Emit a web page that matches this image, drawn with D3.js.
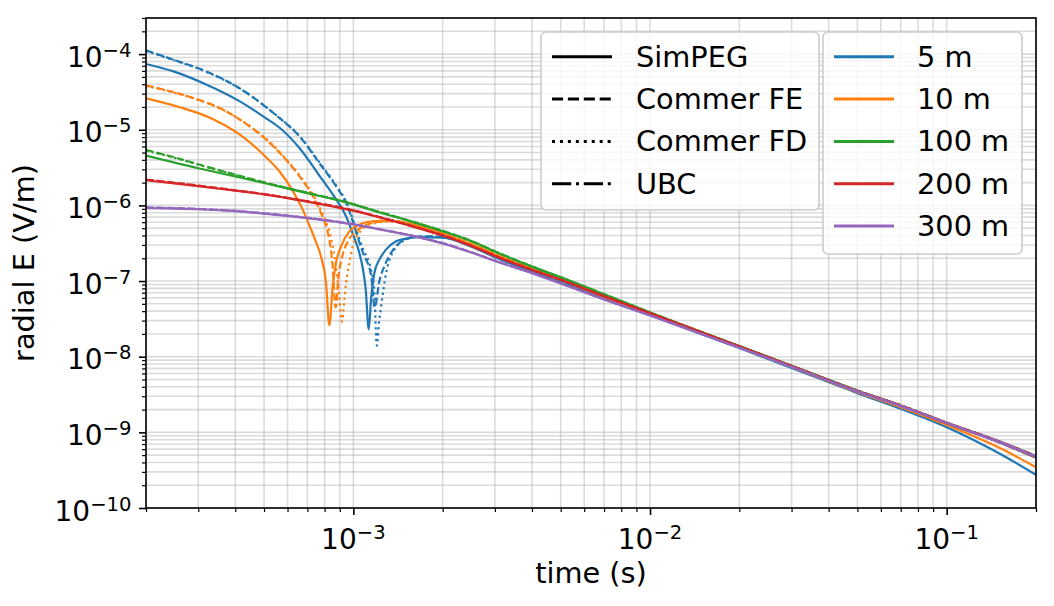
<!DOCTYPE html>
<html>
<head>
<meta charset="utf-8">
<script src="https://cdn.jsdelivr.net/npm/d3@7"></script>
<style>
  body { margin: 0; background: #fff; }
  svg { display: block; }
  text { font-family: "DejaVu Sans", sans-serif; fill: #000; }
</style>
</head>
<body>
<svg id="chart" width="1054" height="606"></svg>
<script>
// ---- data ----
const offsets = ["5 m", "10 m", "100 m", "200 m", "300 m"];
const methods = ["SimPEG", "Commer FE", "Commer FD", "UBC"];

const timeDomain = [2e-4, 2e-1];
const fieldDomain = [1e-10, 3e-4];
const xMajorTicks = [1e-3, 1e-2, 1e-1];
const xTickExponents = ["−3", "−2", "−1"];
const yMajorTicks = [1e-10, 1e-9, 1e-8, 1e-7, 1e-6, 1e-5, 1e-4];
const yTickExponents = ["−10", "−9", "−8", "−7", "−6", "−5", "−4"];

// [time (s), |E| (V/m)]
const simpeg5 = [[2e-4,7.4e-5],[2.46e-4,5.95e-5],[3.19e-4,3.97e-5],[4.13e-4,2.39e-5],[5.01e-4,1.47e-5],[5.63e-4,1.07e-5],[6.58e-4,5.73e-6],[7.68e-4,2.48e-6],[8.76e-4,1.19e-6],[9.2e-4,8.8e-7],[9.6e-4,6.2e-7],[1e-3,4.0e-7],[1.04e-3,2.6e-7],[1.075e-3,1.5e-7],[1.1e-3,8.0e-8],[1.127e-3,2.3e-8],[1.147e-3,5.7e-8],[1.177e-3,1.28e-7],[1.224e-3,1.92e-7],[1.288e-3,2.6e-7],[1.393e-3,3.35e-7],[1.505e-3,3.65e-7],[1.67e-3,3.8e-7],[2e-3,3.75e-7],[2.5e-3,2.85e-7],[3e-3,2.07e-7],[4e-3,1.32e-7],[5e-3,9.6e-8],[7e-3,6.0e-8],[1e-2,3.55e-8],[2e-2,1.3e-8],[3e-2,7.1e-9],[5e-2,3.3e-9],[7e-2,2.05e-9],[1e-1,1.17e-9],[1.5e-1,5.3e-10],[2e-1,2.75e-10]];
const commerFE5 = [[2e-4,1.12e-4],[2.46e-4,8.5e-5],[3.19e-4,5.9e-5],[4.13e-4,3.55e-5],[5.35e-4,1.69e-5],[5.71e-4,1.37e-5],[6.58e-4,8.2e-6],[7.67e-4,3.65e-6],[8.74e-4,1.79e-6],[9.45e-4,1.08e-6],[9.95e-4,6.2e-7],[1.034e-3,3.8e-7],[1.08e-3,2.3e-7],[1.147e-3,1.2e-7],[1.18e-3,4.5e-8],[1.224e-3,1.0e-7],[1.272e-3,1.57e-7],[1.34e-3,2.36e-7],[1.43e-3,3.2e-7],[1.545e-3,3.7e-7],[1.7e-3,3.9e-7],[2e-3,3.85e-7],[2.5e-3,2.95e-7],[3e-3,2.12e-7],[4e-3,1.36e-7],[5e-3,1.0e-7],[7e-3,6.2e-8],[1e-2,3.7e-8],[2e-2,1.35e-8],[3e-2,7.5e-9],[5e-2,3.55e-9],[7e-2,2.27e-9],[1e-1,1.34e-9],[1.5e-1,7.6e-10],[2e-1,4.85e-10]];
const commerFD5 = [[2e-4,1.1e-4],[2.46e-4,8.4e-5],[3.19e-4,5.85e-5],[4.13e-4,3.53e-5],[5.35e-4,1.7e-5],[5.71e-4,1.38e-5],[6.58e-4,8.3e-6],[7.67e-4,3.75e-6],[8.74e-4,1.85e-6],[9.45e-4,1.12e-6],[9.95e-4,6.6e-7],[1.034e-3,4.2e-7],[1.08e-3,2.6e-7],[1.147e-3,1.4e-7],[1.175e-3,8.0e-8],[1.2e-3,1.4e-8],[1.22e-3,2.8e-8],[1.24e-3,4.6e-8],[1.29e-3,1.28e-7],[1.374e-3,2.6e-7],[1.5e-3,3.5e-7],[1.67e-3,3.85e-7],[2e-3,3.8e-7],[2.5e-3,2.9e-7],[3e-3,2.1e-7],[4e-3,1.35e-7],[5e-3,1.0e-7],[7e-3,6.15e-8],[1e-2,3.7e-8],[2e-2,1.35e-8],[3e-2,7.5e-9],[5e-2,3.55e-9],[7e-2,2.27e-9],[1e-1,1.34e-9],[1.5e-1,7.6e-10],[2e-1,4.85e-10]];

const simpeg10 = [[2e-4,2.6e-5],[2.58e-4,2.0e-5],[3.34e-4,1.4e-5],[4.33e-4,7.6e-6],[5e-4,4.6e-6],[5.63e-4,2.83e-6],[6.24e-4,1.57e-6],[6.75e-4,8.8e-7],[7.2e-4,4.8e-7],[7.48e-4,3.3e-7],[7.78e-4,2.1e-7],[8.09e-4,9.4e-8],[8.3e-4,2.6e-8],[8.52e-4,8.5e-8],[8.74e-4,1.73e-7],[9.09e-4,2.88e-7],[9.69e-4,4.54e-7],[1.047e-3,5.57e-7],[1.16e-3,6.17e-7],[1.29e-3,6.3e-7],[1.43e-3,6.1e-7],[1.7e-3,5.2e-7],[2e-3,4.25e-7],[2.5e-3,3.05e-7],[3e-3,2.25e-7],[4e-3,1.43e-7],[5e-3,1.04e-7],[7e-3,6.2e-8],[1e-2,3.65e-8],[2e-2,1.34e-8],[3e-2,7.3e-9],[5e-2,3.4e-9],[7e-2,2.15e-9],[1e-1,1.25e-9],[1.5e-1,6.3e-10],[2e-1,3.45e-10]];
const commerFE10 = [[2e-4,3.85e-5],[2.8e-4,2.73e-5],[3.63e-4,1.85e-5],[4.47e-4,1.11e-5],[5.08e-4,7.43e-6],[5.63e-4,5.0e-6],[6.58e-4,2.43e-6],[7.3e-4,1.32e-6],[7.78e-4,7.9e-7],[8.09e-4,5.3e-7],[8.3e-4,3.5e-7],[8.5e-4,1.7e-7],[8.72e-4,4.5e-8],[8.9e-4,1.1e-7],[9.2e-4,2.2e-7],[9.6e-4,3.4e-7],[1.02e-3,4.5e-7],[1.1e-3,5.5e-7],[1.2e-3,6.0e-7],[1.3e-3,6.2e-7],[1.43e-3,6.1e-7],[1.7e-3,5.25e-7],[2e-3,4.3e-7],[2.5e-3,3.1e-7],[3e-3,2.28e-7],[4e-3,1.46e-7],[5e-3,1.05e-7],[7e-3,6.3e-8],[1e-2,3.72e-8],[2e-2,1.36e-8],[3e-2,7.5e-9],[5e-2,3.55e-9],[7e-2,2.27e-9],[1e-1,1.34e-9],[1.5e-1,7.6e-10],[2e-1,4.85e-10]];
const commerFD10 = [[2e-4,3.8e-5],[2.8e-4,2.7e-5],[3.63e-4,1.84e-5],[4.47e-4,1.12e-5],[5.08e-4,7.6e-6],[5.63e-4,5.1e-6],[6.58e-4,2.5e-6],[7.3e-4,1.4e-6],[7.78e-4,8.6e-7],[8.09e-4,6.0e-7],[8.3e-4,4.5e-7],[8.6e-4,2.3e-7],[8.9e-4,8.5e-8],[9.15e-4,2.9e-8],[9.33e-4,5.7e-8],[9.45e-4,9.4e-8],[9.69e-4,1.73e-7],[9.95e-4,2.88e-7],[1.047e-3,4.33e-7],[1.1e-3,5.28e-7],[1.2e-3,5.9e-7],[1.3e-3,6.1e-7],[1.43e-3,6.05e-7],[1.7e-3,5.25e-7],[2e-3,4.3e-7],[2.5e-3,3.1e-7],[3e-3,2.28e-7],[4e-3,1.46e-7],[5e-3,1.05e-7],[7e-3,6.3e-8],[1e-2,3.72e-8],[2e-2,1.36e-8],[3e-2,7.5e-9],[5e-2,3.55e-9],[7e-2,2.27e-9],[1e-1,1.34e-9],[1.5e-1,7.6e-10],[2e-1,4.85e-10]];

const simpeg100 = [[2e-4,4.56e-6],[3e-4,3.1e-6],[4e-4,2.41e-6],[5e-4,1.98e-6],[7e-4,1.45e-6],[9.2e-4,1.13e-6],[1.185e-3,8.4e-7],[1.43e-3,6.8e-7],[1.7e-3,5.55e-7],[2e-3,4.55e-7],[2.5e-3,3.35e-7],[3e-3,2.45e-7],[4e-3,1.55e-7],[5e-3,1.12e-7],[7e-3,6.7e-8],[1e-2,3.85e-8],[2e-2,1.38e-8],[3e-2,7.6e-9],[5e-2,3.55e-9],[7e-2,2.25e-9],[1e-1,1.32e-9],[1.5e-1,7.4e-10],[2e-1,4.6e-10]];
const commerFE100 = [[2e-4,5.4e-6],[2.5e-4,4.3e-6],[3e-4,3.5e-6],[4e-4,2.55e-6],[5e-4,2.02e-6],[7e-4,1.47e-6],[9.2e-4,1.14e-6],[1.185e-3,8.5e-7],[1.43e-3,6.85e-7],[1.7e-3,5.6e-7],[2e-3,4.6e-7],[2.5e-3,3.38e-7],[3e-3,2.47e-7],[4e-3,1.56e-7],[5e-3,1.12e-7],[7e-3,6.7e-8],[1e-2,3.85e-8],[2e-2,1.38e-8],[3e-2,7.6e-9],[5e-2,3.56e-9],[7e-2,2.27e-9],[1e-1,1.34e-9],[1.5e-1,7.6e-10],[2e-1,4.85e-10]];
const commerFD100 = [[2e-4,5.3e-6],[2.5e-4,4.25e-6],[3e-4,3.45e-6],[4e-4,2.53e-6],[5e-4,2.01e-6],[7e-4,1.46e-6],[9.2e-4,1.14e-6],[1.185e-3,8.5e-7],[1.43e-3,6.85e-7],[1.7e-3,5.6e-7],[2e-3,4.6e-7],[2.5e-3,3.38e-7],[3e-3,2.47e-7],[4e-3,1.56e-7],[5e-3,1.12e-7],[7e-3,6.7e-8],[1e-2,3.85e-8],[2e-2,1.38e-8],[3e-2,7.6e-9],[5e-2,3.56e-9],[7e-2,2.27e-9],[1e-1,1.34e-9],[1.5e-1,7.6e-10],[2e-1,4.85e-10]];

const simpeg200 = [[2e-4,2.15e-6],[3e-4,1.8e-6],[4.13e-4,1.54e-6],[5e-4,1.4e-6],[7e-4,1.12e-6],[1e-3,8.5e-7],[1.2e-3,7.1e-7],[1.43e-3,5.9e-7],[1.7e-3,4.85e-7],[2e-3,4.0e-7],[2.5e-3,2.9e-7],[3e-3,2.15e-7],[4e-3,1.4e-7],[5e-3,1.04e-7],[7e-3,6.3e-8],[1e-2,3.75e-8],[2e-2,1.36e-8],[3e-2,7.5e-9],[5e-2,3.5e-9],[7e-2,2.25e-9],[1e-1,1.32e-9],[1.5e-1,7.4e-10],[2e-1,4.65e-10]];
const commerFE200 = [[2e-4,2.2e-6],[3e-4,1.83e-6],[4.13e-4,1.56e-6],[5e-4,1.41e-6],[7e-4,1.13e-6],[1e-3,8.6e-7],[1.2e-3,7.15e-7],[1.43e-3,5.95e-7],[1.7e-3,4.88e-7],[2e-3,4.02e-7],[2.5e-3,2.92e-7],[3e-3,2.16e-7],[4e-3,1.41e-7],[5e-3,1.04e-7],[7e-3,6.3e-8],[1e-2,3.76e-8],[2e-2,1.37e-8],[3e-2,7.55e-9],[5e-2,3.55e-9],[7e-2,2.27e-9],[1e-1,1.34e-9],[1.5e-1,7.6e-10],[2e-1,4.85e-10]];
const commerFD200 = [[2e-4,2.18e-6],[3e-4,1.82e-6],[4.13e-4,1.55e-6],[5e-4,1.41e-6],[7e-4,1.13e-6],[1e-3,8.6e-7],[1.2e-3,7.15e-7],[1.43e-3,5.95e-7],[1.7e-3,4.88e-7],[2e-3,4.02e-7],[2.5e-3,2.92e-7],[3e-3,2.16e-7],[4e-3,1.41e-7],[5e-3,1.04e-7],[7e-3,6.3e-8],[1e-2,3.76e-8],[2e-2,1.37e-8],[3e-2,7.55e-9],[5e-2,3.55e-9],[7e-2,2.27e-9],[1e-1,1.34e-9],[1.5e-1,7.6e-10],[2e-1,4.85e-10]];

const simpeg300 = [[2e-4,9.3e-7],[3e-4,8.9e-7],[4e-4,8.4e-7],[5e-4,7.8e-7],[7e-4,6.8e-7],[1e-3,5.6e-7],[1.2e-3,4.9e-7],[1.43e-3,4.3e-7],[1.7e-3,3.7e-7],[2e-3,3.15e-7],[2.5e-3,2.38e-7],[3e-3,1.85e-7],[4e-3,1.27e-7],[5e-3,9.3e-8],[7e-3,5.7e-8],[1e-2,3.5e-8],[2e-2,1.31e-8],[3e-2,7.3e-9],[5e-2,3.45e-9],[7e-2,2.22e-9],[1e-1,1.32e-9],[1.5e-1,7.4e-10],[2e-1,4.7e-10]];
const commerFE300 = [[2e-4,9.4e-7],[3e-4,9.0e-7],[4e-4,8.45e-7],[5e-4,7.85e-7],[7e-4,6.85e-7],[1e-3,5.65e-7],[1.2e-3,4.92e-7],[1.43e-3,4.32e-7],[1.7e-3,3.72e-7],[2e-3,3.17e-7],[2.5e-3,2.4e-7],[3e-3,1.86e-7],[4e-3,1.28e-7],[5e-3,9.35e-8],[7e-3,5.75e-8],[1e-2,3.52e-8],[2e-2,1.32e-8],[3e-2,7.4e-9],[5e-2,3.5e-9],[7e-2,2.26e-9],[1e-1,1.34e-9],[1.5e-1,7.6e-10],[2e-1,4.85e-10]];
const commerFD300 = [[2e-4,9.35e-7],[3e-4,8.95e-7],[4e-4,8.45e-7],[5e-4,7.85e-7],[7e-4,6.85e-7],[1e-3,5.65e-7],[1.2e-3,4.92e-7],[1.43e-3,4.32e-7],[1.7e-3,3.72e-7],[2e-3,3.17e-7],[2.5e-3,2.4e-7],[3e-3,1.86e-7],[4e-3,1.28e-7],[5e-3,9.35e-8],[7e-3,5.75e-8],[1e-2,3.52e-8],[2e-2,1.32e-8],[3e-2,7.4e-9],[5e-2,3.5e-9],[7e-2,2.26e-9],[1e-1,1.34e-9],[1.5e-1,7.6e-10],[2e-1,4.85e-10]];

const simpegSeries = [simpeg5, simpeg10, simpeg100, simpeg200, simpeg300];
const commerFESeries = [commerFE5, commerFE10, commerFE100, commerFE200, commerFE300];
const commerFDSeries = [commerFD5, commerFD10, commerFD100, commerFD200, commerFD300];
// UBC curves are listed in the legend but none are drawn in the figure

// ---- styles ----
const offsetColors = ["#1f77b4", "#ff7f0e", "#2ca02c", "#d62728", "#9467bd"];
const curveDash = [null, "7.4,3.2", "2.2,3.6", "14,3.5,2.2,3.5"];
const legendDash = [null, "11.1,4.8", "3,4.95", "19.2,4.8,3,4.8"];
const labelSize = 28.8;

const plot = { left: 146, right: 1036, top: 18, bottom: 508 };
const svg = d3.select("#chart");

const x = d3.scaleLog().domain(timeDomain).range([plot.left, plot.right]);
const y = d3.scaleLog().domain(fieldDomain).range([plot.bottom, plot.top]);

const isMajor = v => Math.abs(Math.log10(v) - Math.round(Math.log10(v))) < 1e-9;
const xMinor = x.ticks().filter(v => !isMajor(v));
const yMinor = y.ticks().filter(v => !isMajor(v));

// grid (major + minor)
const grid = svg.append("g").attr("stroke", "#b0b0b0").attr("stroke-opacity", 0.45).attr("stroke-width", 1.6);
grid.selectAll("line.gx").data(x.ticks()).join("line")
  .attr("x1", d => x(d)).attr("x2", d => x(d))
  .attr("y1", plot.top).attr("y2", plot.bottom);
grid.selectAll("line.gy").data(y.ticks()).join("line")
  .attr("y1", d => y(d)).attr("y2", d => y(d))
  .attr("x1", plot.left).attr("x2", plot.right);

svg.append("clipPath").attr("id", "clip").append("rect")
  .attr("x", plot.left).attr("y", plot.top)
  .attr("width", plot.right - plot.left).attr("height", plot.bottom - plot.top);

const line = d3.line()
  .x(d => x(d[0]))
  .y(d => y(d[1]))
  .curve(d3.curveMonotoneX);

// curves: for each offset SimPEG, Commer FE, Commer FD
const curves = svg.append("g").attr("clip-path", "url(#clip)").attr("fill", "none");
offsets.forEach((o, i) => {
  [simpegSeries[i], commerFESeries[i], commerFDSeries[i]].forEach((data, m) => {
    curves.append("path")
      .datum(data)
      .attr("d", line)
      .attr("stroke", offsetColors[i])
      .attr("stroke-width", 2.2)
      .attr("stroke-dasharray", curveDash[m]);
  });
});

// axes
const xAxisMajor = svg.append("g").attr("transform", `translate(0,${plot.bottom})`)
  .call(d3.axisBottom(x).tickValues(xMajorTicks).tickSize(7).tickFormat(""));
const xAxisMinor = svg.append("g").attr("transform", `translate(0,${plot.bottom})`)
  .call(d3.axisBottom(x).tickValues(xMinor).tickSize(4).tickFormat(""));
const yAxisMajor = svg.append("g").attr("transform", `translate(${plot.left},0)`)
  .call(d3.axisLeft(y).tickValues(yMajorTicks).tickSize(7).tickFormat(""));
const yAxisMinor = svg.append("g").attr("transform", `translate(${plot.left},0)`)
  .call(d3.axisLeft(y).tickValues(yMinor).tickSize(4).tickFormat(""));
[xAxisMajor, xAxisMinor, yAxisMajor, yAxisMinor].forEach(g => {
  g.select(".domain").remove();
  g.selectAll(".tick line").attr("stroke", "#000");
});
xAxisMajor.selectAll(".tick line").attr("stroke-width", 1.6);
yAxisMajor.selectAll(".tick line").attr("stroke-width", 1.6);
xAxisMinor.selectAll(".tick line").attr("stroke-width", 1.2);
yAxisMinor.selectAll(".tick line").attr("stroke-width", 1.2);

// frame
svg.append("rect")
  .attr("x", plot.left).attr("y", plot.top)
  .attr("width", plot.right - plot.left).attr("height", plot.bottom - plot.top)
  .attr("fill", "none").attr("stroke", "#000").attr("stroke-width", 1.6);

// tick labels as 10^n
function powerLabel(sel, exps) {
  sel.each(function (d, i) {
    const t = d3.select(this);
    t.append("tspan").attr("font-size", 28).text("10");
    t.append("tspan").attr("font-size", 19.6).attr("dy", -10).text(exps[i]);
  });
}
svg.append("g").selectAll("text").data(xMajorTicks).join("text")
  .attr("x", d => x(d)).attr("y", plot.bottom + 41)
  .attr("text-anchor", "middle")
  .call(powerLabel, xTickExponents);
svg.append("g").selectAll("text").data(yMajorTicks).join("text")
  .attr("x", plot.left - 14.5).attr("y", d => y(d) + 12.5)
  .attr("text-anchor", "end")
  .call(powerLabel, yTickExponents);

// axis titles
svg.append("text")
  .attr("x", (plot.left + plot.right) / 2).attr("y", 583)
  .attr("text-anchor", "middle").attr("font-size", labelSize)
  .text("time (s)");
svg.append("text")
  .attr("transform", `translate(34,${(plot.top + plot.bottom) / 2}) rotate(-90)`)
  .attr("text-anchor", "middle").attr("font-size", labelSize)
  .text("radial E (V/m)");

// legends
function legend(x0, y0, w, h, labels, strokeFor, dashFor, handleX, textX) {
  const g = svg.append("g");
  g.append("rect")
    .attr("x", x0).attr("y", y0).attr("width", w).attr("height", h)
    .attr("rx", 5).attr("ry", 5)
    .attr("fill", "#fff").attr("fill-opacity", 0.8)
    .attr("stroke", "#cccccc").attr("stroke-width", 1.6);
  labels.forEach((lab, i) => {
    const ry = 56.7 + i * 42.35;
    g.append("line")
      .attr("x1", handleX).attr("x2", handleX + 60)
      .attr("y1", ry).attr("y2", ry)
      .attr("stroke", strokeFor(i)).attr("stroke-width", 3)
      .attr("stroke-dasharray", dashFor(i));
    g.append("text")
      .attr("x", textX).attr("y", ry + 10)
      .attr("font-size", labelSize)
      .text(lab);
  });
}
legend(541, 32, 278, 178, methods, () => "#000", i => legendDash[i], 552, 636);
legend(823, 32, 199, 222, offsets, i => offsetColors[i], () => null, 834, 917);
</script>
</body>
</html>
